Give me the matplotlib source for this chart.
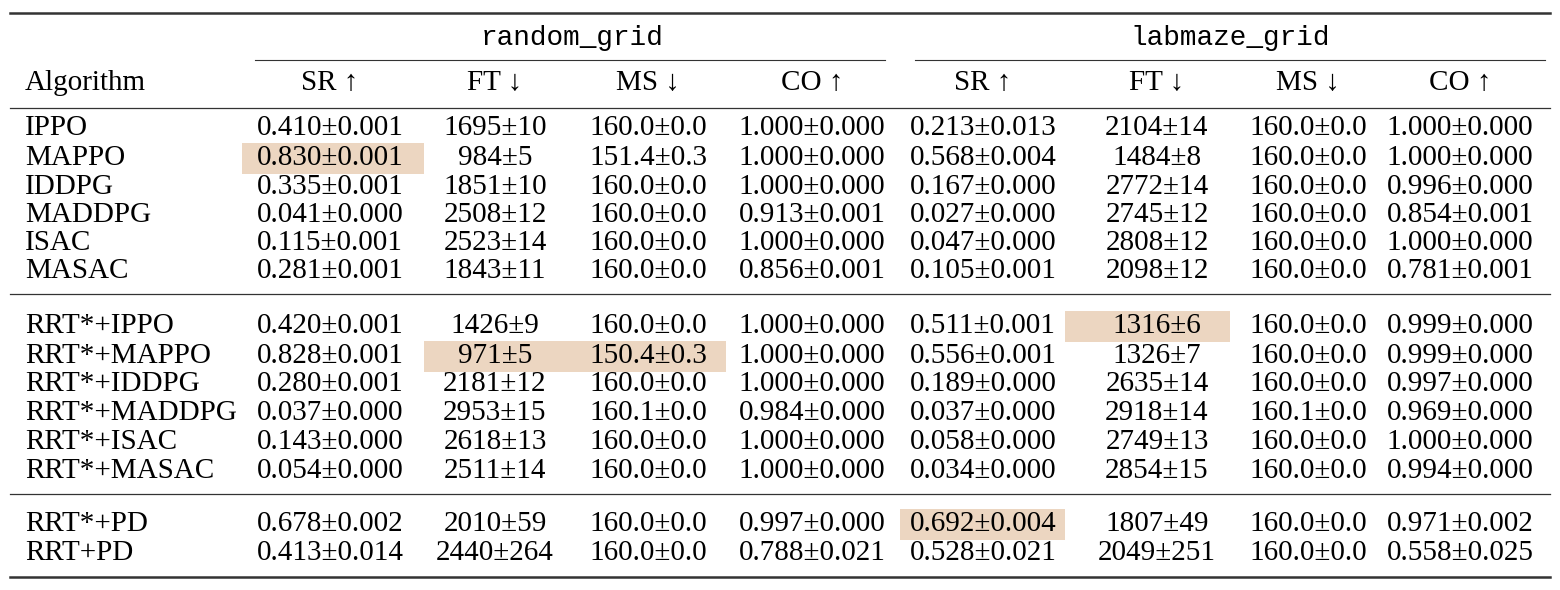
import matplotlib
matplotlib.use("Agg")
import matplotlib.pyplot as plt
from matplotlib import patches

envs = ["random_grid", "labmaze_grid"]
metrics = ["SR \u2191", "FT \u2193", "MS \u2193", "CO \u2191"]

groups = [
    ["IPPO", "MAPPO", "IDDPG", "MADDPG", "ISAC", "MASAC"],
    ["RRT*+IPPO", "RRT*+MAPPO", "RRT*+IDDPG", "RRT*+MADDPG", "RRT*+ISAC", "RRT*+MASAC"],
    ["RRT*+PD", "RRT+PD"],
]

values = {
    "IPPO": ["0.410±0.001", "1695±10", "160.0±0.0", "1.000±0.000", "0.213±0.013", "2104±14", "160.0±0.0", "1.000±0.000"],
    "MAPPO": ["0.830±0.001", "984±5", "151.4±0.3", "1.000±0.000", "0.568±0.004", "1484±8", "160.0±0.0", "1.000±0.000"],
    "IDDPG": ["0.335±0.001", "1851±10", "160.0±0.0", "1.000±0.000", "0.167±0.000", "2772±14", "160.0±0.0", "0.996±0.000"],
    "MADDPG": ["0.041±0.000", "2508±12", "160.0±0.0", "0.913±0.001", "0.027±0.000", "2745±12", "160.0±0.0", "0.854±0.001"],
    "ISAC": ["0.115±0.001", "2523±14", "160.0±0.0", "1.000±0.000", "0.047±0.000", "2808±12", "160.0±0.0", "1.000±0.000"],
    "MASAC": ["0.281±0.001", "1843±11", "160.0±0.0", "0.856±0.001", "0.105±0.001", "2098±12", "160.0±0.0", "0.781±0.001"],
    "RRT*+IPPO": ["0.420±0.001", "1426±9", "160.0±0.0", "1.000±0.000", "0.511±0.001", "1316±6", "160.0±0.0", "0.999±0.000"],
    "RRT*+MAPPO": ["0.828±0.001", "971±5", "150.4±0.3", "1.000±0.000", "0.556±0.001", "1326±7", "160.0±0.0", "0.999±0.000"],
    "RRT*+IDDPG": ["0.280±0.001", "2181±12", "160.0±0.0", "1.000±0.000", "0.189±0.000", "2635±14", "160.0±0.0", "0.997±0.000"],
    "RRT*+MADDPG": ["0.037±0.000", "2953±15", "160.1±0.0", "0.984±0.000", "0.037±0.000", "2918±14", "160.1±0.0", "0.969±0.000"],
    "RRT*+ISAC": ["0.143±0.000", "2618±13", "160.0±0.0", "1.000±0.000", "0.058±0.000", "2749±13", "160.0±0.0", "1.000±0.000"],
    "RRT*+MASAC": ["0.054±0.000", "2511±14", "160.0±0.0", "1.000±0.000", "0.034±0.000", "2854±15", "160.0±0.0", "0.994±0.000"],
    "RRT*+PD": ["0.678±0.002", "2010±59", "160.0±0.0", "0.997±0.000", "0.692±0.004", "1807±49", "160.0±0.0", "0.971±0.002"],
    "RRT+PD": ["0.413±0.014", "2440±264", "160.0±0.0", "0.788±0.021", "0.528±0.021", "2049±251", "160.0±0.0", "0.558±0.025"],
}

# best cells (row name, column index)
highlights = [("MAPPO", 0), ("RRT*+MAPPO", 1), ("RRT*+MAPPO", 2), ("RRT*+IPPO", 5), ("RRT*+PD", 4)]

col_x = [330, 495, 648, 812, 983, 1157, 1308, 1460]
col_edges = [242, 424, 572, 726, 900, 1065, 1230, 1385, 1545]
group_y = [[128, 158, 187, 215, 243, 271], [326, 356, 384, 413, 442, 471], [524, 553]]
hl_color = "#ecd6c1"

fig = plt.figure(figsize=(15.6, 5.9), dpi=100)
ax = fig.add_axes([0, 0, 1, 1])
ax.set_xlim(0, 1560)
ax.set_ylim(590, 0)
ax.axis("off")
font = dict(family="Liberation Serif", fontsize=21, va="center")

row_y = {}
for names, ys in zip(groups, group_y):
    for n, y in zip(names, ys):
        row_y[n] = y

for n, c in highlights:
    y = row_y[n]
    ax.add_patch(patches.Rectangle((col_edges[c], y - 15.5), col_edges[c + 1] - col_edges[c], 31,
                                   color=hl_color, lw=0, zorder=0))

ax.plot([10, 1550], [13, 13], color="#333", lw=1.8)
ax.plot([10, 1550], [577, 577], color="#333", lw=1.8)
for y in [108, 294, 494]:
    ax.plot([10, 1550], [y, y], color="#333", lw=0.9)
ax.plot([255, 885], [60, 60], color="#333", lw=0.8)
ax.plot([915, 1545], [60, 60], color="#333", lw=0.8)

ax.text(572, 38, envs[0], ha="center", va="center", family="Liberation Mono", fontsize=20)
ax.text(1230, 38, envs[1], ha="center", va="center", family="Liberation Mono", fontsize=20)

ax.text(25, 83, "Algorithm", ha="left", **font)
for i, x in enumerate(col_x):
    ax.text(x, 83, metrics[i % 4], ha="center", family=["Liberation Serif", "DejaVu Sans"],
            fontsize=21, va="center")

for n, y in row_y.items():
    ax.text(25, y, n, ha="left", **font)
    for x, v in zip(col_x, values[n]):
        ax.text(x, y, v, ha="center", **font)

fig.savefig("out.png", dpi=100)
